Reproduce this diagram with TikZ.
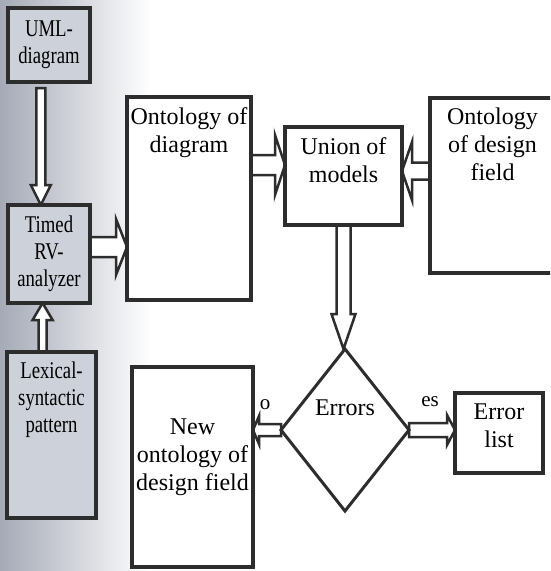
\documentclass[tikz,border=0pt]{standalone}
\usepackage{fontspec}
\setmainfont{Liberation Serif}
\newfontfamily\condfont[FakeStretch=0.78]{Liberation Serif}
\usetikzlibrary{calc,shapes.geometric}
\pgfdeclarelayer{bg}
\pgfdeclarelayer{arrows}
\pgfsetlayers{bg,arrows,main}
\definecolor{edge}{RGB}{45,45,45}
\definecolor{leftfill}{RGB}{205,209,218}
\definecolor{scan}{RGB}{165,170,182}
\newcommand\tbox[4]{\parbox[c][#2][t]{#1}{\centering\vspace*{#3}#4\par}}
\newcommand\blockarrow[5]{%
  \coordinate (bah) at ($(#2)!#5!(#1)$);
  \draw[blockarr] ($(#1)!#3!90:(#2)$) -- ($(bah)!#3!-90:(#1)$) -- ($(bah)!#4!-90:(#1)$) -- (#2) -- ($(bah)!#4!90:(#1)$) -- ($(bah)!#3!90:(#1)$) -- ($(#1)!#3!-90:(#2)$) -- cycle;}
\tikzset{
  box/.style={draw=edge, line width=3.2pt, fill=white, inner sep=0pt, outer sep=0pt, font=\fontsize{24}{28}\selectfont},
  leftbox/.style={box, fill=leftfill, font=\condfont\fontsize{24}{27}\selectfont},
  decision/.style={diamond, draw=edge, line width=3pt, fill=white, inner sep=0pt, outer sep=0pt, minimum width=128pt, minimum height=162pt, font=\fontsize{24}{28}\selectfont},
  blockarr/.style={draw=edge, line width=2.5pt, fill=white, line join=miter},
  lbl/.style={font=\fontsize{21}{22}\selectfont, inner sep=0pt}
}
\begin{document}
\begin{tikzpicture}[x=1pt, y=-1pt]
\begin{pgfonlayer}{bg}
  \fill[white] (0,0) rectangle (550,571);
  \shade[left color=scan, right color=white] (0,0) rectangle (150,571);
\end{pgfonlayer}
\useasboundingbox (0,0) rectangle (550,571);
\clip (0,0) rectangle (550,571);

\node[leftbox] (uml) at (49,45) {\tbox{82pt}{74pt}{13pt}{UML-\\diagram}};
\node[leftbox] (rv) at (49,254) {\tbox{82pt}{98pt}{11pt}{Timed\\RV-\\analyzer}};
\node[leftbox] (lex) at (51.5,435) {\tbox{89pt}{166pt}{10pt}{Lexical-\\syntactic\\pattern}};
\node[box] (ontd) at (189,198.5) {\tbox{124pt}{203pt}{11pt}{Ontology of\\diagram}};
\node[box] (union) at (343.5,176) {\tbox{117pt}{98pt}{11pt}{Union of\\models}};
\node[box] (design) at (492.5,185.5) {\tbox{125pt}{175pt}{10pt}{Ontology\\of design\\field}};
\node[decision] (errors) at (345,430) {\raisebox{15pt}[0pt][0pt]{Errors}};
\node[box] (new) at (192.5,467) {\tbox{121pt}{200pt}{52pt}{New\\ontology of\\design field}};
\node[box] (errlist) at (499,433) {\tbox{88pt}{80pt}{11pt}{Error\\list}};

\node[lbl] (lo) at (265,405) {o};
\node[lbl] (les) at (430,402) {es};

\begin{pgfonlayer}{arrows}
  \coordinate (a1s) at ($(uml.south west)!0.4!(uml.south east)+(0,6)$);
  \coordinate (a1e) at (a1s |- rv.north);
  \blockarrow{a1s}{a1e}{4.5pt}{10pt}{20pt}
  \coordinate (a2s) at ($(lex.north west)!0.4!(lex.north east)$);
  \coordinate (a2e) at (a2s |- rv.south);
  \blockarrow{a2s}{a2e}{4pt}{10pt}{17pt}
  \coordinate (a3s) at ($(rv.east)+(0,-7)$);
  \coordinate (a3e) at (a3s -| ontd.west);
  \blockarrow{a3s}{a3e}{10pt}{28pt}{11pt}
  \coordinate (a4e) at ($(union.west)+(0,-11)$);
  \coordinate (a4s) at (a4e -| ontd.east);
  \blockarrow{a4s}{a4e}{10pt}{30pt}{10pt}
  \coordinate (a5e) at ($(union.east)+(0,-5)$);
  \coordinate (a5s) at (a5e -| design.west);
  \blockarrow{a5s}{a5e}{8.5pt}{29pt}{10pt}
  \coordinate (a6s) at (union.south);
  \coordinate (a6e) at (union.south |- errors.north);
  \blockarrow{a6s}{a6e}{7pt}{12pt}{35pt}
  \coordinate (a7s) at (errors.west);
  \coordinate (a7e) at (errors.west -| new.east);
  \blockarrow{a7s}{a7e}{6pt}{14pt}{6pt}
  \coordinate (a8s) at (errors.east);
  \coordinate (a8e) at (errors.east -| errlist.west);
  \blockarrow{a8s}{a8e}{7pt}{15pt}{8pt}
\end{pgfonlayer}
\end{tikzpicture}
\end{document}
